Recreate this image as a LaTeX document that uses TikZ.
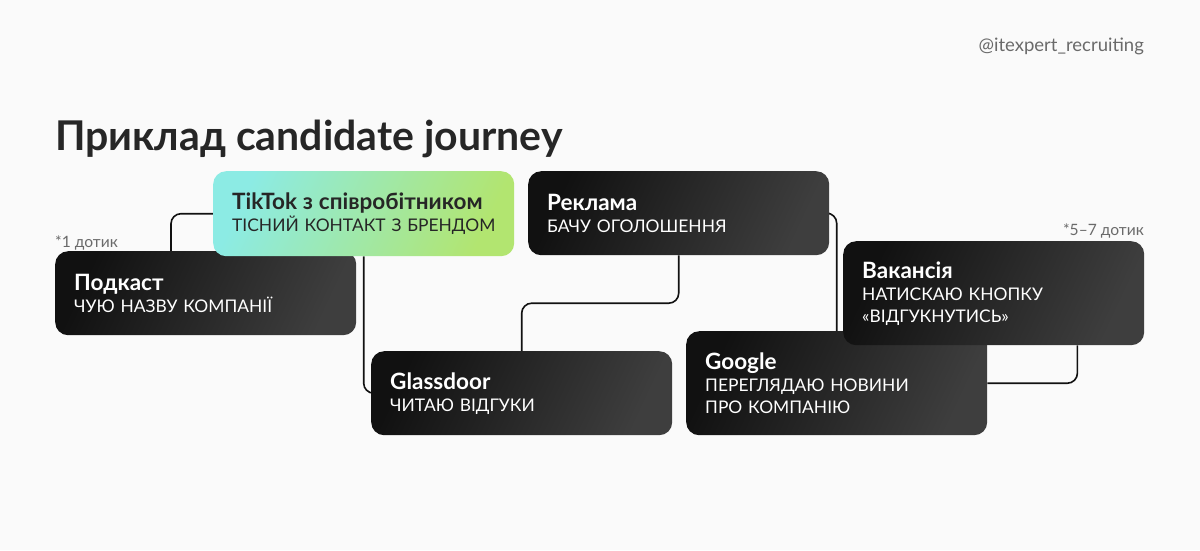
\documentclass[tikz,border=0pt]{standalone}
\usepackage{fontspec}
\setmainfont{Lato}
\usetikzlibrary{backgrounds,calc}
\definecolor{bg}{HTML}{FAFAFA}
\definecolor{ink}{HTML}{262626}
\definecolor{boxa}{HTML}{111111}
\definecolor{boxb}{HTML}{3E3E3E}
\definecolor{mint}{HTML}{8CEBE4}
\definecolor{lime}{HTML}{B2E570}
\definecolor{note}{HTML}{6A6A6A}
\newcommand{\cardhead}[1]{{\bfseries\fontsize{22.5}{22}\selectfont #1}}
\tikzset{
  card/.style={rounded corners=13pt, minimum width=301pt, text width=263pt,
    inner xsep=19pt, inner ysep=0pt, align=left, anchor=north west,
    font=\fontsize{17.4}{22}\selectfont, text=white,
    left color=boxa, right color=boxb, shading angle=65},
  lightcard/.style={card, text=ink, left color=mint, right color=lime, shading angle=65},
  link/.style={line width=1.6pt, rounded corners=10pt, draw=boxa},
  notetext/.style={font=\fontsize{15.6}{16}\selectfont, text=note, inner sep=0pt}
}
\begin{document}
\begin{tikzpicture}[x=1pt,y=-1pt]
        \useasboundingbox (0,0) rectangle (1200,550);
        % header
        \node[notetext, font=\fontsize{18.5}{20}\selectfont, anchor=base east] (handle) at (1144,51) {@itexpert\_recruiting};
        \node[anchor=base west, inner sep=0pt, text=ink, font=\bfseries\fontsize{41}{42}\selectfont] (title) at (55,150) {Приклад candidate journey};
        % cards
        \node[card, minimum height=84pt] (podcast) at (55,251) {\cardhead{Подкаст}\\ ЧУЮ НАЗВУ КОМПАНІЇ};
        \node[lightcard, minimum height=85pt] (tiktok) at (213,171) {\cardhead{TikTok з співробітником}\\ \mbox{ТІСНИЙ КОНТАКТ З БРЕНДОМ}};
        \node[card, minimum height=84pt] (glassdoor) at (371,351) {\cardhead{Glassdoor}\\ ЧИТАЮ ВІДГУКИ};
        \node[card, minimum height=84pt] (reklama) at (528,171) {\cardhead{Реклама}\\ БАЧУ ОГОЛОШЕННЯ};
        \node[card, minimum height=104pt] (google) at (686,331) {\cardhead{Google}\\ ПЕРЕГЛЯДАЮ НОВИНИ\\ ПРО КОМПАНІЮ};
        \node[card, minimum height=104pt] (vacancy) at (843,241) {\cardhead{Вакансія}\\ НАТИСКАЮ КНОПКУ\\ «ВІДГУКНУТИСЬ»};
        % notes
        \node[notetext, anchor=base west] (firsttouch) at (55,247) {*1 дотик};
        \node[notetext, anchor=base east] (lasttouch) at (1144,235) {*5–7 дотик};
        % connectors
        \begin{scope}[on background layer]
        \fill[bg] (0,0) rectangle (1200,550);
        \coordinate (podcastup) at ($(podcast.north west)+(116,0)$);
        \coordinate (vacancydown) at ($(vacancy.south east)+(-67,0)$);
        \coordinate (midturn) at ($(reklama.south)!.5!(glassdoor.north)$);
        \draw[link] (podcastup) |- (tiktok.west);
        \draw[link] (tiktok.south) |- (glassdoor.west);
        \draw[link] (reklama.south) |- (midturn) -| (glassdoor.north);
        \draw[link] (reklama.east) -| (google.north);
        \draw[link] (google.east) -| (vacancydown);
        \end{scope}
\end{tikzpicture}
\end{document}
